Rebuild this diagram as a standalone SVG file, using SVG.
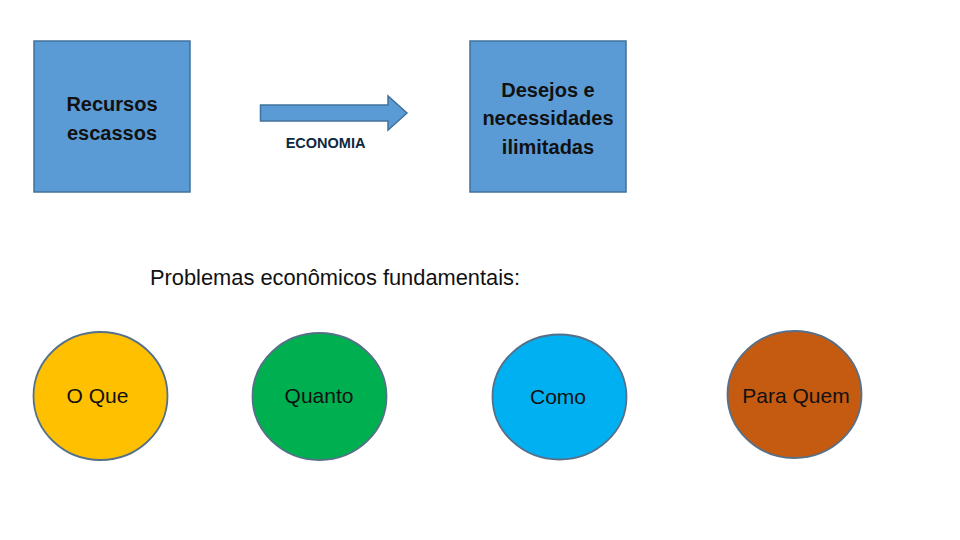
<svg xmlns="http://www.w3.org/2000/svg" width="960" height="540" viewBox="0 0 960 540">
<style>
.box{fill:#5B9BD5;stroke:#41719C;stroke-width:1.5}
.circ{stroke:#56708A;stroke-width:1.8}
.t{font-family:"Liberation Sans",Arial,sans-serif;fill:#111111;text-anchor:middle}
.bt{font-size:20px;font-weight:bold}
.ct{font-size:21px}
</style>
<rect width="960" height="540" fill="#FFFFFF"/>
<g id="recursos">
<rect class="box" x="34" y="41" width="156" height="151"/>
<text class="t bt" x="112" y="111">Recursos</text>
<text class="t bt" x="112" y="140">escassos</text>
</g>
<g id="connectors">
<path d="M260.5,105 L388,105 L388,96 L407,113 L388,130 L388,121 L260.5,121 Z" fill="#5B9BD5" stroke="#41719C" stroke-width="1.5"/>
<text class="t" x="325.5" y="148" style="font-size:14.5px;font-weight:bold;fill:#0E2841">ECONOMIA</text>
</g>
<g id="desejos">
<rect class="box" x="470" y="41" width="156" height="151"/>
<text class="t bt" x="548" y="96.5">Desejos e</text>
<text class="t bt" x="548" y="125">necessidades</text>
<text class="t bt" x="548" y="154">ilimitadas</text>
</g>
<g id="titulo">
<text x="150" y="285" textLength="370" lengthAdjust="spacingAndGlyphs" style="font-family:'Liberation Sans',Arial,sans-serif;font-size:22px;fill:#111111">Problemas econômicos fundamentais:</text>
</g>
<g id="oque">
<ellipse class="circ" cx="100.5" cy="396" rx="67" ry="64" fill="#FFC000"/>
<text class="t ct" x="97.5" y="403">O Que</text>
</g>
<g id="quanto">
<ellipse class="circ" cx="319.5" cy="396.5" rx="67" ry="63.5" fill="#00B050"/>
<text class="t ct" x="319" y="403">Quanto</text>
</g>
<g id="como">
<ellipse class="circ" cx="559.5" cy="397" rx="67" ry="62.5" fill="#00B0F0"/>
<text class="t ct" x="558" y="403.5">Como</text>
</g>
<g id="paraquem">
<ellipse class="circ" cx="794.5" cy="394.5" rx="67" ry="63.5" fill="#C55A11"/>
<text class="t ct" x="796" y="403">Para Quem</text>
</g>
</svg>
